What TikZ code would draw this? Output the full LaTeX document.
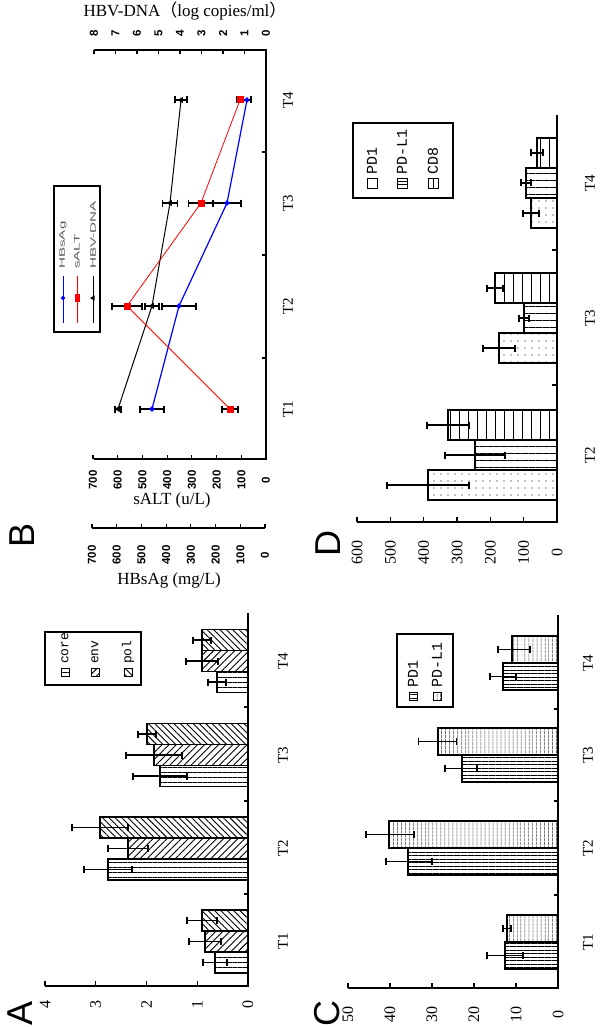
\documentclass[tikz,border=0pt]{standalone}
\usepackage{fontspec}
\setmainfont{Liberation Serif}
\newfontfamily\lsans{Liberation Sans}
\newfontfamily\lmono{Liberation Mono}
\newfontfamily\cjk{Noto Sans CJK SC}
\usetikzlibrary{patterns.meta,shapes.geometric}
\tikzset{
  axisline/.style={line width=1.4pt},
  tk/.style={line width=1.1pt},
  eb/.style={line width=1.1pt},
  barbox/.style={draw, line width=1.1pt},
  tlab/.style={rotate=90, font=\fontsize{15}{15}\selectfont},
  vlab/.style={rotate=90, font=\fontsize{16}{16}\selectfont},
  blab/.style={rotate=90, font=\lsans\bfseries\fontsize{11.5}{11.5}\selectfont},
  legtxt/.style={rotate=90, anchor=west, inner sep=0pt, font=\lmono\fontsize{#1}{#1}\selectfont},
  plet/.style={rotate=90, font=\lsans\fontsize{36}{36}\selectfont},
  titl/.style={font=\fontsize{17}{17}\selectfont},
  pcore/.style={pattern={Lines[angle=0,distance=5pt,line width=0.7pt]}},
  penv/.style={pattern={Lines[angle=45,distance=5pt,line width=0.9pt]}},
  ppol/.style={pattern={Lines[angle=-45,distance=4.5pt,line width=0.9pt]}},
  pcA/.style={pattern={Lines[angle=0,distance=3.5pt,line width=0.6pt]}},
  pcB/.style={pattern={Lines[angle=90,distance=4pt,line width=0.6pt]}},
  pdh/.style={pattern={Lines[angle=0,distance=7pt,line width=0.8pt]}},
  pdv/.style={pattern={Lines[angle=90,distance=9pt,line width=0.8pt]}},
  pdots/.style={pattern={Dots[distance=7pt,radius=0.6pt]}},
}
\newcommand\ebar[3]{\draw[eb] ({#1-#3},#2) -- ({#1+#3},#2) ({#1-#3},{#2-3.5}) -- ({#1-#3},{#2+3.5}) ({#1+#3},{#2-3.5}) -- ({#1+#3},{#2+3.5});}
\begin{document}
\begin{tikzpicture}[x=1pt,y=-1pt]
\useasboundingbox[fill=white] (0,0) rectangle (600,1027);

% ================= Panel A =================
\foreach \cy/\va/\vb/\vc/\ea/\eB/\ec in {941.5/215/205/202/12/16/15, 848.5/108/128/100/24/20/28, 755/160/154/147/27/28/9, 661/217/202/202/9/16/9}{
  \draw[barbox,pcore] (\va,\cy+31.5) rectangle (248,\cy+10.5);
  \draw[barbox,penv] (\vb,\cy+10.5) rectangle (248,\cy-10.5);
  \draw[barbox,ppol] (\vc,\cy-10.5) rectangle (248,\cy-31.5);
  \ebar{\va}{\cy+21}{\ea}
  \ebar{\vb}{\cy}{\eB}
  \ebar{\vc}{\cy-21}{\ec}
}
\draw[axisline] (248,613) -- (248,986) -- (45,986);
\foreach \k in {0,...,4}{
  \draw[tk] ({248-50.75*\k},986) -- ({248-50.75*\k},981);
  \node[vlab] at ({248-50.75*\k},1004) {\k};
}
\foreach \y in {707,801,894} \draw[tk] (248,\y) -- (244,\y);
\foreach \y/\t in {941.5/T1,848.5/T2,755/T3,661/T4} \node[tlab] at (283,\y) {\t};
\draw[line width=1.2pt] (45,632) rectangle (141,685);
\draw[line width=0.8pt,pcore] (61,668) rectangle (69,676);
\draw[line width=0.8pt,penv] (91,668) rectangle (99,676);
\draw[line width=0.8pt,ppol] (124,668) rectangle (132,676);
\node[legtxt=13] at (65,664) {core};
\node[legtxt=13] at (95,664) {env};
\node[legtxt=13] at (128,664) {pol};
\node[plet] at (20,1013) {A};

% ================= Panel B =================
\draw[axisline] (94,50) -- (266,50) -- (266,459) -- (94,459);
\draw[axisline] (92,528) -- (265,528);
\foreach \v in {0,...,8}{
  \draw[tk] ({266-21.5*\v},50) -- ({266-21.5*\v},54);
  \node[blab] at ({266-21.5*\v},33) {\v};
}
\foreach \v in {0,100,...,700}{
  \draw[tk] ({266-0.2471*\v},459) -- ({266-0.2471*\v},455);
  \node[blab] at ({266-0.2471*\v},480) {\v};
  \draw[tk] ({265-0.2471*\v},528) -- ({265-0.2471*\v},524);
  \node[blab] at ({265-0.2471*\v},555) {\v};
}
\foreach \y in {152,255,358} \draw[tk] (266,\y) -- (262,\y);
\foreach \y/\t in {409/T1,306/T2,203/T3,100/T4} \node[tlab] at (288,\y) {\t};
\node[titl] (dnat) at (185,11) {HBV-DNA{\cjk （}log copies/ml{\cjk ）}};
\node[titl] (altt) at (172,500) {sALT (u/L)};
\node[titl] (hbst) at (169,580) {HBsAg (mg/L)};
% data points
\coordinate (b1) at (152,409); \coordinate (b2) at (179,306); \coordinate (b3) at (227,203); \coordinate (b4) at (247,100);
\coordinate (r1) at (230,409); \coordinate (r2) at (127,306); \coordinate (r3) at (201,203); \coordinate (r4) at (240,100);
\coordinate (k1) at (118,409); \coordinate (k2) at (152,306); \coordinate (k3) at (170,203); \coordinate (k4) at (181,100);
\draw[black, line width=1pt] (k1) -- (k2) -- (k3) -- (k4);
\draw[blue, line width=1.2pt] (b1) -- (b2) -- (b3) -- (b4);
\draw[red, line width=0.8pt] (r1) -- (r2) -- (r3) -- (r4);
\ebar{152}{409}{12} \ebar{179}{306}{17} \ebar{227}{203}{14} \ebar{247}{100}{4}
\ebar{230}{409}{8} \ebar{127}{306}{15} \ebar{201}{203}{12.5} \ebar{240}{100}{3}
\ebar{118}{409}{3} \ebar{152}{306}{7} \ebar{170}{203}{7.5} \ebar{181}{100}{6}
\tikzset{
  bmk/.style={diamond, fill=blue, inner sep=0pt, minimum size=6pt},
  rmk/.style={rectangle, fill=red, inner sep=0pt, minimum size=7pt},
  kmk/.style={regular polygon, regular polygon sides=3, rotate=90, fill=black, inner sep=0pt, minimum size=7pt},
}
\foreach \n in {1,...,4}{
  \node[kmk] at (k\n) {};
  \node[bmk] at (b\n) {};
  \node[rmk] at (r\n) {};
}
% legend B
\draw[line width=1.2pt] (54,186) rectangle (100,332);
\draw[blue, line width=1pt] (63,276) -- (63,323); \node[bmk, minimum size=5pt] at (63,298) {};
\draw[red, line width=1pt] (77,276) -- (77,323); \node[rmk, minimum width=5pt, minimum height=8pt] at (77,298) {};
\draw[black, line width=1pt] (93,276) -- (93,323); \node[kmk, minimum size=6pt] at (93,298) {};
\foreach \x/\t in {63/HBsAg,77/sALT,93/HBV-DNA}
  \node[rotate=90, anchor=west, inner sep=0pt, text=black!65, font=\lsans\fontsize{8}{8}\selectfont] at (\x,269) {\scalebox{1.9}[1]{\t}};
\node[plet] at (22,535) {B};

% ================= Panel C =================
\foreach \cy/\va/\vb/\ea/\eB/\ca/\cb in {942/505/507/18/4/505/507, 848/408/389/23/24/409/390, 755/462/438/16/19/461/437.5, 663/503/512/13/16/503/514}{
  \draw[barbox,pcA] (\va,\cy+27) rectangle (558,\cy);
  \draw[barbox,pcB] (\vb,\cy) rectangle (558,\cy-27);
  \ebar{\ca}{\cy+13.5}{\ea}
  \ebar{\cb}{\cy-13.5}{\eB}
}
\draw[axisline] (558,615) -- (558,988) -- (348,988);
\foreach \k/\l in {0/0,1/10,2/20,3/30,4/40,5/50}{
  \draw[tk] ({558-42*\k},988) -- ({558-42*\k},983);
  \node[vlab] at ({558-42*\k},1014) {\l};
}
\foreach \y in {709,801,895} \draw[tk] (558,\y) -- (554,\y);
\foreach \y/\t in {942/T1,848/T2,755/T3,663/T4} \node[tlab] at (588,\y) {\t};
\draw[line width=1.2pt] (397,634) rectangle (453,707);
\draw[line width=0.8pt,pcA] (409,692) rectangle (417,700);
\draw[line width=0.8pt,pcB] (433,692) rectangle (441,700);
\node[legtxt=15] at (413,688) {PD1};
\node[legtxt=15] at (437,688) {PD-L1};
\node[plet] at (327,1013) {C};

% ================= Panel D =================
\foreach \cy/\va/\vb/\vc/\ea/\eB/\ec in {455/428/475/448/41/30/21, 318/499/524/495/16/5/8, 183/531/526/537/8/5/6}{
  \draw[barbox,pdots] (\va,\cy+45) rectangle (557,\cy+15);
  \draw[barbox,pdh] (\vb,\cy+15) rectangle (557,\cy-15);
  \draw[barbox,pdv] (\vc,\cy-15) rectangle (557,\cy-45);
  \ebar{\va}{\cy+30}{\ea}
  \ebar{\vb}{\cy}{\eB}
  \ebar{\vc}{\cy-30}{\ec}
}
\draw[axisline] (557,115) -- (557,522) -- (357,522);
\foreach \k/\l in {0/0,1/100,2/200,3/300,4/400,5/500,6/600}{
  \draw[tk] ({557-33.33*\k},522) -- ({557-33.33*\k},517);
  \node[vlab] at ({557-33.33*\k},552) {\l};
}
\foreach \y in {250,385} \draw[tk] (557,\y) -- (552,\y);
\foreach \y/\t in {455/T2,318/T3,183/T4} \node[tlab] at (590,\y) {\t};
\draw[line width=1.2pt] (353,123) rectangle (453,198);
\draw[line width=0.8pt] (367,178) rectangle (377,188);
\draw[line width=0.8pt] (397,178) rectangle (407,188) (397,181.3) -- (407,181.3) (397,184.7) -- (407,184.7);
\draw[line width=0.8pt] (428,178) rectangle (438,188) (433,178) -- (433,188);
\node[legtxt=15] at (372,175) {PD1};
\node[legtxt=15] at (402,175) {PD-L1};
\node[legtxt=15] at (433,175) {CD8};
\node[plet] at (328,543) {D};
\end{tikzpicture}
\end{document}
